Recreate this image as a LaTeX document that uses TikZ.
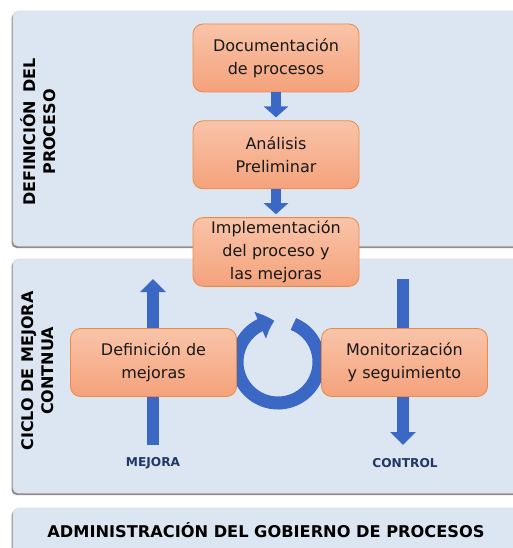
\documentclass[tikz,border=0pt]{standalone}
\usepackage{fontspec}
\setmainfont{DejaVu Sans}
\usetikzlibrary{positioning,arrows.meta,bending}

\definecolor{panelfill}{HTML}{DCE6F2}
\definecolor{panelshadow}{HTML}{8C8C8C}
\definecolor{boxtop}{HTML}{F9C4A9}
\definecolor{boxbottom}{HTML}{F4A27B}
\definecolor{boxline}{HTML}{EE8A44}
\definecolor{arrowblue}{HTML}{3B68C4}
\definecolor{labelnavy}{HTML}{1F3864}

\begin{document}
\begin{tikzpicture}[
        x=1pt, y=-1pt,
        >=latex,
        box/.style={rectangle, rounded corners=10pt, draw=boxline, line width=0.8pt,
            top color=boxtop, bottom color=boxbottom,
            minimum width=166pt, minimum height=68pt, align=center,
            font=\fontsize{16}{23}\selectfont, text=black!90},
        panel/.style={fill=panelfill, draw=black!12, line width=0.6pt, rounded corners=5pt},
        panelshade/.style={fill=panelshadow, rounded corners=5pt},
        sidelabel/.style={rotate=90, align=center, font=\fontsize{16}{20}\selectfont\bfseries},
        steplabel/.style={font=\fontsize{12.2}{14}\selectfont\bfseries, text=labelnavy},
        smallarrow/.style={draw=arrowblue, line width=10pt, shorten >=3pt,
            -{Triangle[width=24pt,length=11pt]}},
        bigarrow/.style={draw=arrowblue, line width=12pt,
            -{Triangle[width=25pt,length=13pt]}},
        ringarrow/.style={draw=arrowblue, line width=13pt,
            -{Triangle[width=28pt,length=15pt,bend]}}
    ]
    \useasboundingbox (0,0) rectangle (512,548);

    % Panels
    \fill[panelshade] (11.5,13) rectangle (530,248);
    \path[panel] (13,11) rectangle (530,246);
    \fill[panelshade] (11.5,261) rectangle (530,495);
    \path[panel] (13,259) rectangle (530,493);
    \fill[panelshade] (11.5,510) rectangle (530,570);
    \path[panel] (13,508) rectangle (530,570);

    \node[sidelabel] (deflbl) at (38,132) {DEFINICIÓN\enspace DEL\\PROCESO};
    \node[sidelabel] (ciclolbl) at (38,371) {CICLO DE MEJORA\\CONTNUA};
    \node[font=\fontsize{16.2}{18}\selectfont\bfseries] (adminlbl) at (266,530)
        {ADMINISTRACIÓN DEL GOBIERNO DE PROCESOS};

    % Cycle
    \coordinate (mejbot) at (153,445);
    \coordinate (mejtop) at (153,279);
    \coordinate (ctrtop) at (403,279);
    \coordinate (ctrbot) at (403,445);
    \coordinate (ringc) at (278,362);
    \node[steplabel] (mejlbl) at (153,463) {MEJORA};
    \node[steplabel] (ctrlbl) at (405,463) {CONTROL};

    \draw[bigarrow] (mejbot) -- (mejtop);
    \draw[bigarrow] (ctrtop) -- (ctrbot);
    \draw[ringarrow] (ringc) ++(-68:41) arc[start angle=-68, end angle=265, radius=41];

    % Blocks
    \node[box] (doc) at (276,58) {Documentación\\de procesos};
    \node[box, below=28pt of doc] (ana) {Análisis\\Preliminar};
    \node[box, below=28pt of ana] (impl) {Implementación\\del proceso y\\las mejoras};
    \node[box] (defmej) at (153.5,362.5) {Definición de\\mejoras};
    \node[box] (monit) at (404.5,362.5) {Monitorización\\y seguimiento};

    % Connections
    \draw[smallarrow] (doc) -- (ana);
    \draw[smallarrow] (ana) -- (impl);
\end{tikzpicture}
\end{document}
